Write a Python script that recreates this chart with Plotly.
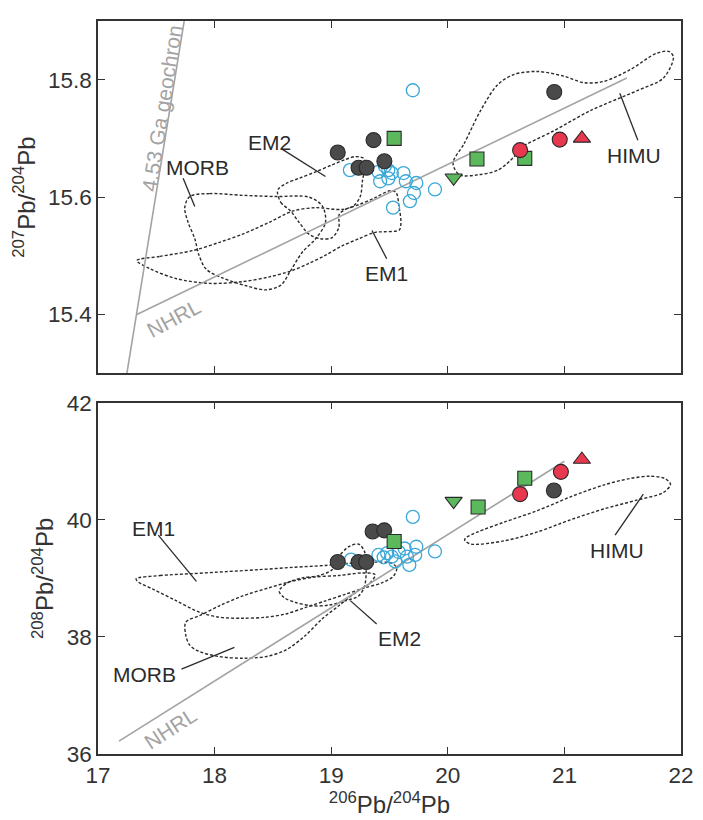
import plotly.graph_objects as go

# ---------------- sample data ----------------
# 206Pb/204Pb, 207Pb/204Pb, 208Pb/204Pb by group
cyan_x_207 = [19.16, 19.405, 19.49, 19.52, 19.42, 19.49, 19.62, 19.64, 19.73, 19.71, 19.675, 19.53, 19.89, 19.70, 19.46]
cyan_y_207 = [15.646, 15.643, 15.646, 15.641, 15.627, 15.632, 15.641, 15.627, 15.624, 15.607, 15.593, 15.582, 15.613, 15.782, 15.653]

cyan_x_208 = [19.17, 19.405, 19.48, 19.52, 19.63, 19.65, 19.73, 19.72, 19.67, 19.55, 19.89, 19.70, 19.45, 19.58]
cyan_y_208 = [39.32, 39.40, 39.43, 39.37, 39.51, 39.37, 39.54, 39.40, 39.23, 39.29, 39.46, 40.05, 39.36, 39.45]

dark_x_207 = [19.056, 19.363, 19.456, 19.235, 19.303, 20.913]
dark_y_207 = [15.676, 15.697, 15.661, 15.650, 15.650, 15.779]
dark_x_208 = [19.056, 19.355, 19.455, 19.235, 19.30, 20.91]
dark_y_208 = [39.28, 39.80, 39.82, 39.28, 39.28, 40.50]

sq_x_207 = [19.54, 20.25, 20.66]
sq_y_207 = [15.700, 15.665, 15.666]
sq_x_208 = [19.54, 20.26, 20.66]
sq_y_208 = [39.63, 40.22, 40.71]

tri_dn_x = [20.05]
tri_dn_207 = [15.633]
tri_dn_208 = [40.32]

red_x_207 = [20.62, 20.96]
red_y_207 = [15.680, 15.698]
red_x_208 = [20.62, 20.97]
red_y_208 = [40.44, 40.82]

red_tri_x = [21.15]
red_tri_207 = [15.700]
red_tri_208 = [41.03]

# ---------------- reference lines ----------------
geochron_x = [17.248, 17.739]
geochron_y = [15.3, 15.9]
nhrl7_x = [17.333, 21.535]
nhrl7_y = [15.400, 15.803]
nhrl8_x = [17.18, 21.0]
nhrl8_y = [36.22, 41.0]

# ---------------- mantle reservoir fields (207Pb/204Pb) ----------------
em1_7_x = [17.333, 17.531, 17.815, 18.042, 18.241, 18.468, 18.667, 18.866, 19.093, 19.235, 19.377, 19.505,
           19.556, 19.581, 19.598, 19.584, 19.462, 19.377, 19.235, 19.093, 18.951, 18.809, 18.667, 18.468,
           18.241, 17.957, 17.673, 17.446, 17.333]
em1_7_y = [15.492, 15.499, 15.509, 15.523, 15.537, 15.557, 15.576, 15.582, 15.579, 15.587, 15.599, 15.611,
           15.608, 15.585, 15.557, 15.544, 15.541, 15.540, 15.529, 15.517, 15.501, 15.487, 15.475, 15.464,
           15.456, 15.453, 15.461, 15.478, 15.492]

morb_7_x = [17.787, 17.957, 18.241, 18.525, 18.809, 18.923, 18.951, 18.866, 18.752, 18.653, 18.568, 18.440,
            18.270, 18.071, 17.929, 17.866, 17.830, 17.773, 17.744, 17.787]
morb_7_y = [15.601, 15.606, 15.603, 15.601, 15.600, 15.585, 15.557, 15.529, 15.506, 15.475, 15.450, 15.442,
            15.449, 15.462, 15.477, 15.501, 15.529, 15.557, 15.582, 15.601]

em2_7_x = [18.539, 18.568, 18.653, 18.724, 18.809, 18.908, 19.008, 19.065, 19.070, 19.121, 19.192, 19.249,
           19.269, 19.292, 19.278, 19.207, 19.121, 19.008, 18.866, 18.724, 18.611, 18.548, 18.539]
em2_7_y = [15.608, 15.591, 15.576, 15.557, 15.537, 15.529, 15.531, 15.548, 15.571, 15.579, 15.585, 15.601,
           15.629, 15.657, 15.666, 15.669, 15.664, 15.655, 15.643, 15.632, 15.623, 15.614, 15.608]

himu_7_x = [20.045, 20.14, 20.28, 20.43, 20.57, 20.77, 20.995, 21.166, 21.336, 21.563, 21.79, 21.90, 21.935,
            21.85, 21.62, 21.22, 20.91, 20.62, 20.57, 20.43, 20.26, 20.10, 20.045]
himu_7_y = [15.658, 15.691, 15.747, 15.792, 15.809, 15.814, 15.806, 15.795, 15.797, 15.817, 15.845, 15.848, 15.838,
            15.803, 15.781, 15.747, 15.713, 15.683, 15.669, 15.646, 15.638, 15.638, 15.658]

# ---------------- mantle reservoir fields (208Pb/204Pb) ----------------
em1_8_x = [17.327, 17.531, 17.815, 18.099, 18.383, 18.667, 18.951, 19.178, 19.377, 19.519, 19.562, 19.533,
           19.434, 19.292, 19.121, 18.951, 18.781, 18.610, 18.440, 18.241, 18.042, 17.872, 17.673, 17.475,
           17.347, 17.327]
em1_8_y = [38.992, 39.048, 39.081, 39.115, 39.149, 39.188, 39.221, 39.261, 39.277, 39.261, 39.176, 39.036,
           38.924, 38.840, 38.728, 38.616, 38.504, 38.392, 38.336, 38.319, 38.336, 38.420, 38.616, 38.812,
           38.936, 38.992]

morb_8_x = [17.753, 17.872, 18.042, 18.241, 18.468, 18.667, 18.866, 19.065, 19.263, 19.377, 19.334, 19.207,
            19.065, 18.923, 18.781, 18.610, 18.440, 18.241, 18.042, 17.872, 17.787, 17.753, 17.753]
morb_8_y = [38.252, 38.364, 38.532, 38.700, 38.840, 38.952, 39.025, 39.048, 39.093, 39.064, 38.924, 38.756,
            38.532, 38.308, 38.028, 37.776, 37.664, 37.636, 37.664, 37.748, 37.860, 38.028, 38.252]

em2_8_x = [18.554, 18.624, 18.752, 18.894, 19.008, 19.065, 19.150, 19.235, 19.286, 19.300, 19.286, 19.235,
           19.121, 18.979, 18.837, 18.695, 18.596, 18.554]
em2_8_y = [38.784, 38.924, 39.008, 39.048, 39.148, 39.372, 39.541, 39.585, 39.457, 39.148, 38.868, 38.700,
           38.616, 38.543, 38.532, 38.588, 38.672, 38.784]

himu_8_x = [20.144, 20.200, 20.484, 20.768, 21.052, 21.336, 21.620, 21.847, 21.910, 21.861, 21.734, 21.563,
            21.336, 21.052, 20.768, 20.484, 20.257, 20.158, 20.144]
himu_8_y = [39.653, 39.586, 39.641, 39.793, 40.000, 40.185, 40.336, 40.465, 40.605, 40.706, 40.745, 40.706,
            40.594, 40.392, 40.157, 39.961, 39.793, 39.698, 39.653]

# ---------------- field labels and leader lines ----------------
labels_7 = ["MORB", "EM2", "EM1", "HIMU"]
label_x_7 = [17.855, 18.47, 19.47, 21.60]
label_y_7 = [15.651, 15.693, 15.470, 15.671]
lead_x_7 = [[17.73, 17.83], [18.568, 18.951], [19.35, 19.476], [21.475, 21.63]]
lead_y_7 = [[15.632, 15.584], [15.683, 15.635], [15.543, 15.495], [15.777, 15.697]]

labels_8 = ["EM1", "EM2", "MORB", "HIMU"]
label_x_8 = [17.48, 19.59, 17.40, 21.45]
label_y_8 = [39.86, 37.97, 37.36, 39.48]
lead_x_8 = [[17.517, 17.844], [19.164, 19.39], [17.716, 18.17], [21.435, 21.677]]
lead_y_8 = [[39.74, 38.95], [38.62, 38.22], [37.45, 37.82], [39.74, 40.44]]

# ---------------- styles ----------------
FONT = "Liberation Sans, Arial, sans-serif"
INK = "#2b2b2b"
GREY = "#a3a3a3"
DARK = "#4a4a4a"
GREEN = "#5cb85c"
RED = "#e8384f"
CYAN = "#3aa8d8"
FIELD_DASH = "3px,2px"

fig = go.Figure()


def add_field(xs, ys, ax):
    fig.add_trace(go.Scatter(x=xs, y=ys, mode="lines", xaxis=ax[0], yaxis=ax[1],
                             line=dict(color=INK, width=1.4, dash=FIELD_DASH, shape="spline", smoothing=0.9),
                             hoverinfo="skip", showlegend=False))


def add_line(xs, ys, ax, color, width):
    fig.add_trace(go.Scatter(x=xs, y=ys, mode="lines", xaxis=ax[0], yaxis=ax[1],
                             line=dict(color=color, width=width), hoverinfo="skip", showlegend=False))


def add_pts(xs, ys, ax, symbol, fill, size, lc="#2a2a2a", lw=1.1):
    fig.add_trace(go.Scatter(x=xs, y=ys, mode="markers", xaxis=ax[0], yaxis=ax[1],
                             marker=dict(symbol=symbol, color=fill, size=size,
                                         line=dict(color=lc, width=lw)),
                             showlegend=False))


top = ("x", "y")
bot = ("x2", "y2")

# reservoir fields
for xs, ys in [(em1_7_x, em1_7_y), (morb_7_x, morb_7_y), (em2_7_x, em2_7_y), (himu_7_x, himu_7_y)]:
    add_field(xs, ys, top)
for xs, ys in [(em1_8_x, em1_8_y), (morb_8_x, morb_8_y), (em2_8_x, em2_8_y), (himu_8_x, himu_8_y)]:
    add_field(xs, ys, bot)

# reference lines
add_line(geochron_x, geochron_y, top, GREY, 1.6)
add_line(nhrl7_x, nhrl7_y, top, GREY, 1.6)
add_line(nhrl8_x, nhrl8_y, bot, GREY, 1.6)

# label leader lines
for xs, ys in zip(lead_x_7, lead_y_7):
    add_line(xs, ys, top, INK, 1.3)
for xs, ys in zip(lead_x_8, lead_y_8):
    add_line(xs, ys, bot, INK, 1.3)

# samples
for ax, cx, cy, dx, dy, sx, sy, td, rx, ry, rt in [
    (top, cyan_x_207, cyan_y_207, dark_x_207, dark_y_207, sq_x_207, sq_y_207, tri_dn_207,
     red_x_207, red_y_207, red_tri_207),
    (bot, cyan_x_208, cyan_y_208, dark_x_208, dark_y_208, sq_x_208, sq_y_208, tri_dn_208,
     red_x_208, red_y_208, red_tri_208),
]:
    add_pts(cx, cy, ax, "circle-open", CYAN, 13, lc=CYAN, lw=1.3)
    add_pts(dx, dy, ax, "circle", DARK, 15)
    add_pts(sx, sy, ax, "square", GREEN, 14)
    add_pts(tri_dn_x, td, ax, "triangle-down", GREEN, 15)
    add_pts(rx, ry, ax, "circle", RED, 15)
    add_pts(red_tri_x, rt, ax, "triangle-up", RED, 15)

LABEL_FONT = dict(family=FONT, size=21, color=INK)
NOTE_FONT = dict(family=FONT, size=21, color=GREY)

annotations = []
for t, x, y in zip(labels_7, label_x_7, label_y_7):
    annotations.append(dict(text=t, x=x, y=y, xref="x", yref="y", showarrow=False, font=LABEL_FONT))
for t, x, y in zip(labels_8, label_x_8, label_y_8):
    annotations.append(dict(text=t, x=x, y=y, xref="x2", yref="y2", showarrow=False, font=LABEL_FONT))

annotations += [
    dict(text="4.53 Ga geochron", x=17.548, y=15.751, xref="x", yref="y", showarrow=False,
         textangle=-81, font=NOTE_FONT),
    dict(text="NHRL", x=17.645, y=15.394, xref="x", yref="y", showarrow=False,
         textangle=-28, font=NOTE_FONT),
    dict(text="NHRL", x=17.62, y=36.43, xref="x2", yref="y2", showarrow=False,
         textangle=-33, font=NOTE_FONT),
]

TITLE_FONT = dict(family=FONT, size=24, color="#333333")
axis_common = dict(showline=True, linecolor="#333333", linewidth=1.5, mirror="ticks",
                   ticks="inside", ticklen=7, tickwidth=1.3, tickcolor="#333333",
                   showgrid=False, zeroline=False,
                   tickfont=dict(family=FONT, size=22.5, color="#333333"))

fig.update_layout(
    width=703, height=820,
    margin=dict(l=98, r=19, t=9, b=66),
    paper_bgcolor="white", plot_bgcolor="white",
    showlegend=False,
    annotations=annotations,
    xaxis=dict(domain=[0, 1], anchor="y", range=[17, 22], tickvals=[17, 18, 19, 20, 21, 22],
               showticklabels=False, **axis_common),
    yaxis=dict(domain=[0.5195, 1], anchor="x", range=[15.3, 15.9], tickvals=[15.4, 15.6, 15.8],
               ticktext=["15.4", "15.6", "15.8"],
               title=dict(text="<sup>207</sup>Pb/<sup>204</sup>Pb", standoff=6, font=TITLE_FONT),
               **axis_common),
    xaxis2=dict(domain=[0, 1], anchor="y2", range=[17, 22], tickvals=[17, 18, 19, 20, 21, 22],
                title=dict(text="<sup>206</sup>Pb/<sup>204</sup>Pb", standoff=6, font=TITLE_FONT),
                **axis_common),
    yaxis2=dict(domain=[0, 0.4792], anchor="x2", range=[36, 42], tickvals=[36, 38, 40, 42],
                title=dict(text="<sup>208</sup>Pb/<sup>204</sup>Pb", standoff=6, font=TITLE_FONT),
                **axis_common),
)

fig.write_html("out.html")
